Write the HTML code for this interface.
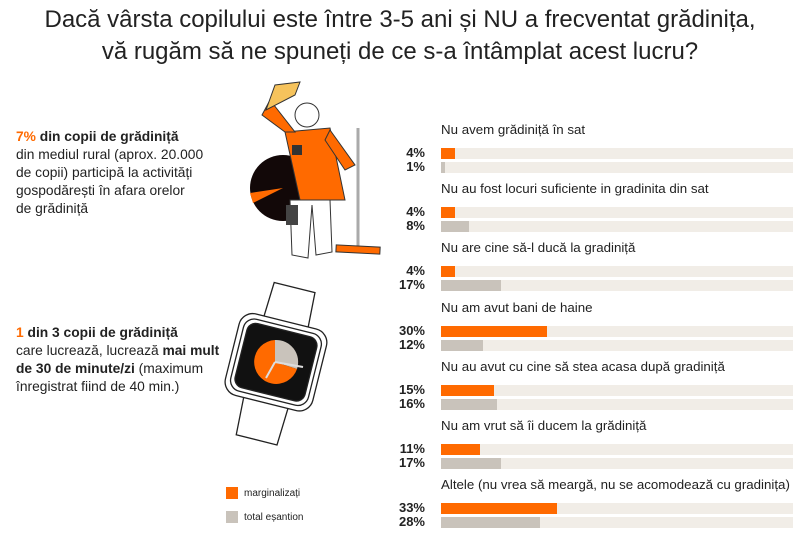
<!DOCTYPE html>
<html><head><meta charset="utf-8"><style>
body{margin:0;width:800px;height:540px;background:#fff;font-family:"Liberation Sans",sans-serif;color:#222;position:relative;overflow:hidden}
.t{position:absolute;left:0;width:800px;text-align:center;font-size:24px;color:#222}
.lab{position:absolute;left:441px;font-size:13.3px;color:#222;white-space:nowrap}
.pct{position:absolute;left:395px;width:30px;text-align:right;font-size:13px;font-weight:bold;line-height:12px}
.tr{position:absolute;left:441px;width:352px;height:11px;background:#f1ede7}
.b{position:absolute;left:0;top:0;height:11px}
.o{background:#ff6a00}.g{background:#c9c3bb}
.txt{position:absolute;left:16px;font-size:13.8px;line-height:18px;color:#222;white-space:nowrap}
</style></head><body>
<div class="t" style="top:6px">Dacă vârsta copilului este între 3-5 ani și NU a frecventat grădinița,</div>
<div class="t" style="top:38px">vă rugăm să ne spuneți de ce s-a întâmplat acest lucru?</div>

<div class="txt" style="top:128px"><b><span style="color:#ff6a00">7%</span> din copii de grădiniță</b><br>din mediul rural (aprox. 20.000<br>de copii) participă la activități<br>gospodărești în afara orelor<br>de grădiniță</div>
<div class="txt" style="top:324px"><b><span style="color:#ff6a00">1</span> din 3 copii de grădiniță</b><br>care lucrează, lucrează <b>mai mult</b><br><b>de 30 de minute/zi</b> (maximum<br>înregistrat fiind de 40 min.)</div>

<svg style="position:absolute;left:0;top:0" width="440" height="540">
<circle cx="283" cy="188" r="33" fill="#120808"/>
<path d="M283 188 L250 193 L253 203 Z" fill="#ff6a00"/>
<path d="M290 200 L292 255 L308 258 L312 205 L316 255 L332 252 L330 200 Z" fill="#fff" stroke="#333"/>
<rect x="286" y="205" width="12" height="20" fill="#444"/>
<path d="M285 132 L330 128 L345 200 L300 200 Z" fill="#ff6a00" stroke="#333"/>
<path d="M285 132 L262 115 L270 100 L295 132 Z" fill="#ff6a00" stroke="#333"/>
<path d="M330 130 L355 165 L345 170 L325 140 Z" fill="#ff6a00" stroke="#333"/>
<rect x="292" y="145" width="10" height="10" fill="#333"/>
<circle cx="307" cy="115" r="12" fill="#fff" stroke="#333"/>
<path d="M266 110 L275 85 L300 82 L295 95 Z" fill="#f6c35c" stroke="#333"/>
<line x1="358" y1="128" x2="358" y2="248" stroke="#aaa" stroke-width="3"/>
<rect x="336" y="246" width="44" height="7" fill="#ff6a00" stroke="#333" transform="rotate(3 358 250)"/>
<g transform="rotate(14 275 362)" stroke="#222" stroke-width="1.3" fill="#fff">
<path d="M255 285 L297 285 L299 325 L253 325 Z"/>
<path d="M253 400 L299 400 L297 442 L255 442 Z"/>
<rect x="231" y="320" width="90" height="84" rx="14"/>
<rect x="236" y="325" width="80" height="74" rx="11"/>
<rect x="240" y="329" width="72" height="66" rx="9" fill="#111"/>
</g>
<path d="M275 362 L275 340 A22 22 0 0 1 297 369 Z" fill="#c9c3bb"/>
<path d="M275 362 L297 369 A22 22 0 1 1 275 340 Z" fill="#ff6a00"/>
<line x1="275" y1="362" x2="303" y2="367" stroke="#ddd" stroke-width="2"/>
<line x1="275" y1="362" x2="266" y2="378" stroke="#ddd" stroke-width="2"/>
<rect x="226" y="487" width="12" height="12" fill="#ff6a00"/>
<rect x="226" y="511" width="12" height="12" fill="#c9c3bb"/>
<text x="244" y="496" font-size="10" fill="#222" font-family="Liberation Sans">marginalizați</text>
<text x="244" y="520" font-size="10" fill="#222" font-family="Liberation Sans">total eșantion</text>
</svg>

<div id="rows"></div>
<script>
var d=[["Nu avem grădiniță în sat",4,1],["Nu au fost locuri suficiente in gradinita din sat",4,8],["Nu are cine să-l ducă la gradiniță",4,17],["Nu am avut bani de haine",30,12],["Nu au avut cu cine să stea acasa după gradiniță",15,16],["Nu am vrut să îi ducem la grădiniță",11,17],["Altele (nu vrea să meargă, nu se acomodează cu gradinița)",33,28]];
var h="";d.forEach(function(r,i){var y=122+i*59.2;
h+='<div class="lab" style="top:'+y+'px">'+r[0]+'</div>';
h+='<div class="pct" style="top:'+(y+25)+'px">'+r[1]+'%</div><div class="pct" style="top:'+(y+39)+'px">'+r[2]+'%</div>';
h+='<div class="tr" style="top:'+(y+26)+'px"><div class="b o" style="width:'+(r[1]*3.52)+'px"></div></div>';
h+='<div class="tr" style="top:'+(y+40)+'px"><div class="b g" style="width:'+(r[2]*3.52)+'px"></div></div>';});
document.getElementById("rows").innerHTML=h;
</script>
</body></html>
